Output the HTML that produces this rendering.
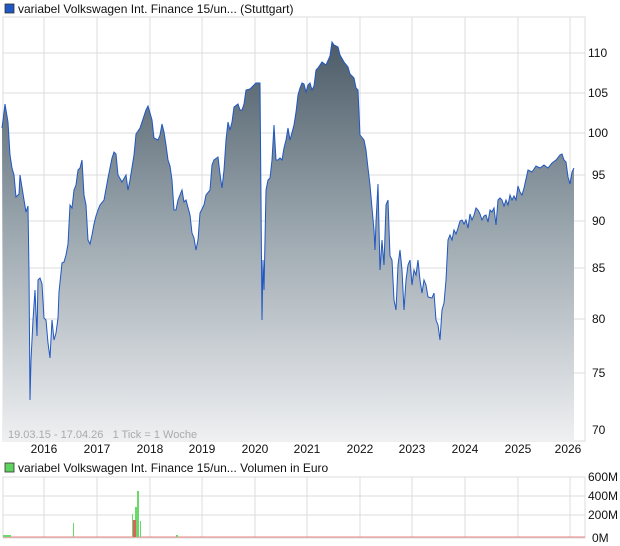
<!DOCTYPE html>
<html><head><meta charset="utf-8"><style>
body{margin:0;background:#fff;width:620px;height:546px;overflow:hidden}
svg{display:block;font-family:"Liberation Sans",sans-serif}
</style></head><body>
<svg width="620" height="546" viewBox="0 0 620 546">
<defs>
<linearGradient id="g" gradientUnits="userSpaceOnUse" x1="0" y1="40" x2="0" y2="441">
<stop offset="0" stop-color="#4b5b67"/><stop offset="0.45" stop-color="#97a3ab"/><stop offset="1" stop-color="#eff0f2"/>
</linearGradient>
</defs>
<rect x="5" y="4" width="9" height="9" fill="#1f57c3" stroke="#333" stroke-width="0.8"/>
<text x="18" y="13" font-size="12" fill="#111">variabel Volkswagen Int. Finance 15/un... (Stuttgart)</text>
<rect x="3" y="17" width="582" height="424" fill="#fff" stroke="#ddd"/>
<g stroke="#dcdcdc" stroke-width="1">
<line x1="44" y1="17" x2="44" y2="441"/><line x1="97" y1="17" x2="97" y2="441"/><line x1="150" y1="17" x2="150" y2="441"/><line x1="202" y1="17" x2="202" y2="441"/><line x1="255" y1="17" x2="255" y2="441"/><line x1="307" y1="17" x2="307" y2="441"/><line x1="360" y1="17" x2="360" y2="441"/><line x1="412" y1="17" x2="412" y2="441"/><line x1="465" y1="17" x2="465" y2="441"/><line x1="518" y1="17" x2="518" y2="441"/><line x1="570" y1="17" x2="570" y2="441"/>
<line x1="3" y1="53" x2="585" y2="53"/><line x1="3" y1="93" x2="585" y2="93"/><line x1="3" y1="133" x2="585" y2="133"/><line x1="3" y1="175" x2="585" y2="175"/><line x1="3" y1="221" x2="585" y2="221"/><line x1="3" y1="268" x2="585" y2="268"/><line x1="3" y1="319" x2="585" y2="319"/><line x1="3" y1="373" x2="585" y2="373"/>
</g>
<polygon fill="url(#g)" points="3,441 2,128 5,104 8,122 10,155 12,168 14,175 16,197 19,194 20,175 24,200 26,212 28,206 29,272 30,400 31,360 33,320 35,290 37,336 38,280 40,278 42,284 44,318 46,320 48,343 50,358 52,320 54,340 56,333 58,318 59,292 62,263 64,262 66,255 68,244 70,205 72,208 74,190 76,185 78,170 80,168 82,160 84,195 86,205 88,240 90,244 92,235 94,224 96,216 98,210 100,205 104,200 108,178 112,158 114,152 116,154 118,175 122,182 126,175 128,190 130,180 134,155 136,134 140,128 142,122 146,110 148,106 152,120 154,138 158,140 160,135 162,124 164,132 166,145 168,160 170,166 172,180 174,210 176,210 178,200 182,190 184,202 186,200 190,215 192,233 194,238 196,250 198,240 200,213 204,205 206,195 210,190 212,165 214,160 218,157 220,174 222,188 224,170 226,140 228,122 230,130 232,122 234,107 238,104 240,110 242,110 244,104 246,90 250,89 256,83 260,83 261,200 262,320 263,260 264,290 266,190 268,180 270,178 272,160 274,125 276,160 278,160 280,158 282,160 284,148 286,140 288,128 290,140 294,125 296,112 298,95 300,88 302,83 304,84 306,92 308,85 310,83 312,90 314,86 316,70 318,68 322,62 326,65 330,56 332,42 334,45 338,47 340,55 344,62 348,67 350,74 354,78 356,88 358,90 360,135 364,140 366,150 368,168 370,185 372,208 374,230 375,250 376,222 378,184 380,270 382,240 384,265 386,205 388,200 390,256 392,260 394,300 396,310 398,265 400,250 402,270 404,310 406,280 408,265 410,260 412,285 414,270 416,275 418,260 420,280 422,293 424,280 426,285 428,297 432,298 434,293 436,320 438,325 440,340 442,310 444,303 446,280 448,240 450,235 452,240 454,230 456,234 458,228 460,221 462,220 464,224 466,220 468,228 470,214 472,220 474,215 476,208 478,210 480,214 482,220 484,216 486,215 488,222 490,210 492,212 494,208 496,225 498,200 500,198 502,200 504,206 506,200 508,205 510,195 512,200 514,196 516,200 518,186 520,192 522,195 524,188 528,170 532,172 536,166 540,168 544,165 548,168 552,163 556,160 560,155 562,154 564,160 566,162 568,177 570,184 572,172 574,168 574,441"/>
<polyline fill="none" stroke="#1f57c3" stroke-width="1" points="2,128 5,104 8,122 10,155 12,168 14,175 16,197 19,194 20,175 24,200 26,212 28,206 29,272 30,400 31,360 33,320 35,290 37,336 38,280 40,278 42,284 44,318 46,320 48,343 50,358 52,320 54,340 56,333 58,318 59,292 62,263 64,262 66,255 68,244 70,205 72,208 74,190 76,185 78,170 80,168 82,160 84,195 86,205 88,240 90,244 92,235 94,224 96,216 98,210 100,205 104,200 108,178 112,158 114,152 116,154 118,175 122,182 126,175 128,190 130,180 134,155 136,134 140,128 142,122 146,110 148,106 152,120 154,138 158,140 160,135 162,124 164,132 166,145 168,160 170,166 172,180 174,210 176,210 178,200 182,190 184,202 186,200 190,215 192,233 194,238 196,250 198,240 200,213 204,205 206,195 210,190 212,165 214,160 218,157 220,174 222,188 224,170 226,140 228,122 230,130 232,122 234,107 238,104 240,110 242,110 244,104 246,90 250,89 256,83 260,83 261,200 262,320 263,260 264,290 266,190 268,180 270,178 272,160 274,125 276,160 278,160 280,158 282,160 284,148 286,140 288,128 290,140 294,125 296,112 298,95 300,88 302,83 304,84 306,92 308,85 310,83 312,90 314,86 316,70 318,68 322,62 326,65 330,56 332,42 334,45 338,47 340,55 344,62 348,67 350,74 354,78 356,88 358,90 360,135 364,140 366,150 368,168 370,185 372,208 374,230 375,250 376,222 378,184 380,270 382,240 384,265 386,205 388,200 390,256 392,260 394,300 396,310 398,265 400,250 402,270 404,310 406,280 408,265 410,260 412,285 414,270 416,275 418,260 420,280 422,293 424,280 426,285 428,297 432,298 434,293 436,320 438,325 440,340 442,310 444,303 446,280 448,240 450,235 452,240 454,230 456,234 458,228 460,221 462,220 464,224 466,220 468,228 470,214 472,220 474,215 476,208 478,210 480,214 482,220 484,216 486,215 488,222 490,210 492,212 494,208 496,225 498,200 500,198 502,200 504,206 506,200 508,205 510,195 512,200 514,196 516,200 518,186 520,192 522,195 524,188 528,170 532,172 536,166 540,168 544,165 548,168 552,163 556,160 560,155 562,154 564,160 566,162 568,177 570,184 572,172 574,168"/>
<line x1="585" y1="17" x2="585" y2="441" stroke="#ddd"/>
<g font-size="12" fill="#111">
<text x="588" y="57">110</text><text x="588" y="97">105</text><text x="588" y="137">100</text><text x="592" y="179">95</text><text x="592" y="225">90</text><text x="592" y="272">85</text><text x="592" y="323">80</text><text x="592" y="377">75</text><text x="592" y="434">70</text>
</g>
<text x="8" y="438" font-size="11" fill="#aaa" xml:space="preserve">19.03.15 - 17.04.26   1 Tick = 1 Woche</text>
<g font-size="12" fill="#111" text-anchor="middle">
<text x="44" y="453">2016</text><text x="97" y="453">2017</text><text x="150" y="453">2018</text><text x="202" y="453">2019</text><text x="255" y="453">2020</text><text x="307" y="453">2021</text><text x="360" y="453">2022</text><text x="412" y="453">2023</text><text x="465" y="453">2024</text><text x="518" y="453">2025</text><text x="568" y="453">2026</text>
</g>
<rect x="5" y="463" width="9" height="9" fill="#5fd35f" stroke="#333" stroke-width="0.8"/>
<text x="18" y="472" font-size="12" fill="#111">variabel Volkswagen Int. Finance 15/un... Volumen in Euro</text>
<rect x="3" y="477" width="582" height="61" fill="#fff" stroke="#ddd"/>
<g stroke="#dcdcdc">
<line x1="44" y1="477" x2="44" y2="538"/><line x1="97" y1="477" x2="97" y2="538"/><line x1="150" y1="477" x2="150" y2="538"/><line x1="202" y1="477" x2="202" y2="538"/><line x1="255" y1="477" x2="255" y2="538"/><line x1="307" y1="477" x2="307" y2="538"/><line x1="360" y1="477" x2="360" y2="538"/><line x1="412" y1="477" x2="412" y2="538"/><line x1="465" y1="477" x2="465" y2="538"/><line x1="518" y1="477" x2="518" y2="538"/><line x1="570" y1="477" x2="570" y2="538"/>
<line x1="3" y1="496" x2="585" y2="496"/><line x1="3" y1="515" x2="585" y2="515"/>
</g>
<rect x="3" y="536.5" width="582" height="1" fill="#e88080"/>
<rect x="3" y="535" width="8" height="2" fill="#6ad86a"/>
<g fill="#6ad86a">
<rect x="73" y="523" width="1" height="14"/><rect x="132" y="514" width="1" height="23"/><rect x="137" y="491" width="2" height="46"/><rect x="135" y="507" width="2" height="30"/><rect x="140" y="521" width="1" height="16"/><rect x="176" y="535" width="2" height="2"/>
</g>
<rect x="133" y="520" width="3" height="17" fill="#e06060"/>
<g font-size="12" fill="#111">
<text x="588" y="481">600M</text><text x="588" y="500">400M</text><text x="588" y="519">200M</text><text x="592" y="542">0M</text>
</g>
</svg>
</body></html>
